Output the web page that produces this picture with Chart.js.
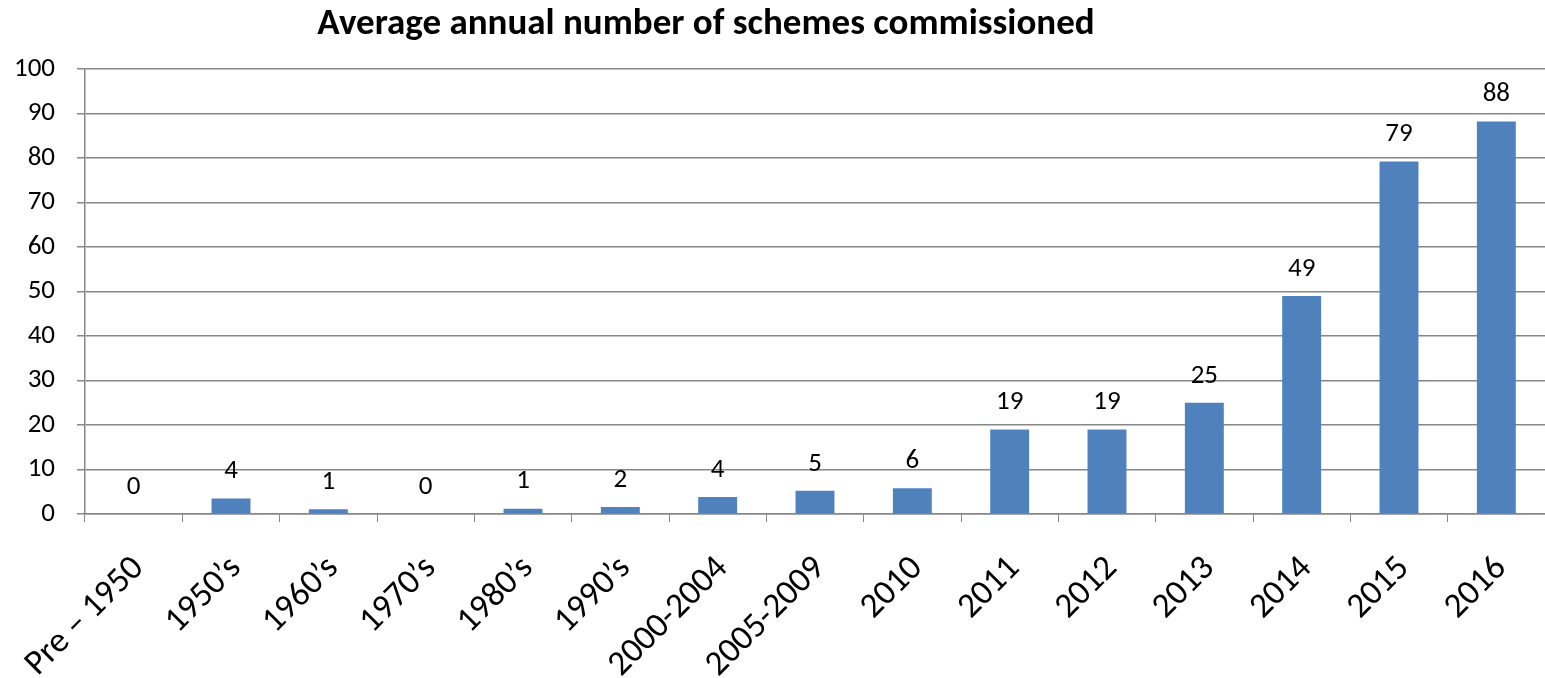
<!DOCTYPE html>
<html>
<head>
<meta charset="utf-8">
<script src="https://cdn.jsdelivr.net/npm/chart.js@4.4.1/dist/chart.umd.min.js"></script>
<style>
  html, body { margin: 0; padding: 0; background: #fff; overflow: hidden; }
  .chart-wrap { width: 1545px; height: 678px; }
</style>
</head>
<body>
<div class="chart-wrap"><canvas id="schemes"></canvas></div>
<script>
const categories = ['Pre \u2013 1950', '1950\u2019s', '1960\u2019s', '1970\u2019s', '1980\u2019s', '1990\u2019s',
  '2000-2004', '2005-2009', '2010', '2011', '2012', '2013', '2014', '2015', '2016'];
const schemesPerYear = [0, 3.5, 1.05, 0, 1.2, 1.6, 3.8, 5.2, 5.8, 19, 19, 25, 49, 79.2, 88.2];
const yTicks = [0, 10, 20, 30, 40, 50, 60, 70, 80, 90, 100];

const FONT = "Carlito, 'Open Sans', sans-serif";
const AXIS_GREY = '#878787';

// value labels above each bar, rounded like the source table
const barLabels = {
  id: 'barLabels',
  afterDatasetsDraw(chart) {
    const ctx = chart.ctx;
    const meta = chart.getDatasetMeta(0);
    ctx.save();
    ctx.font = '27px ' + FONT;
    ctx.fillStyle = '#000';
    ctx.textAlign = 'center';
    ctx.textBaseline = 'middle';
    meta.data.forEach((bar, i) => {
      ctx.fillText(String(Math.round(schemesPerYear[i])), bar.x, bar.y - 27);
    });
    ctx.restore();
  }
};

// category names at 45 degrees, ending just under each category centre
const slantedLabels = {
  id: 'slantedLabels',
  afterDraw(chart) {
    const ctx = chart.ctx;
    const xs = chart.scales.x;
    ctx.save();
    ctx.font = '35px ' + FONT;
    ctx.fillStyle = '#000';
    ctx.textAlign = 'right';
    ctx.textBaseline = 'middle';
    categories.forEach((name, i) => {
      ctx.save();
      ctx.translate(xs.getPixelForTick(i) + 5, xs.top + 49);
      ctx.rotate(-Math.PI / 4);
      ctx.fillText(name, 0, 0);
      ctx.restore();
    });
    ctx.restore();
  }
};

const chartTitle = {
  id: 'chartTitle',
  afterDraw(chart) {
    const ctx = chart.ctx;
    ctx.save();
    ctx.font = 'bold 37px ' + FONT;
    ctx.fillStyle = '#000';
    ctx.textAlign = 'center';
    ctx.textBaseline = 'middle';
    ctx.fillText('Average annual number of schemes commissioned', 706, 25);
    ctx.restore();
  }
};

new Chart(document.getElementById('schemes'), {
  type: 'bar',
  data: {
    labels: categories,
    datasets: [{
      data: schemesPerYear,
      backgroundColor: '#4F81BD',
      borderWidth: 0,
      categoryPercentage: 1,
      barPercentage: 0.4
    }]
  },
  options: {
    responsive: true,
    maintainAspectRatio: false,
    animation: false,
    // the plot runs a few pixels past the right edge of the canvas
    layout: { padding: { top: 69, right: -4, left: 0, bottom: 0 } },
    plugins: { legend: { display: false }, tooltip: { enabled: false } },
    scales: {
      x: {
        grid: {
          offset: true,
          drawOnChartArea: false,
          color: AXIS_GREY,
          tickLength: 8
        },
        border: { color: AXIS_GREY, width: 1.5 },
        ticks: { display: false },
        afterFit(axis) { axis.height = 678 - 514; }
      },
      y: {
        min: 0,
        max: 100,
        afterBuildTicks(axis) { axis.ticks = yTicks.map(v => ({ value: v })); },
        grid: { color: AXIS_GREY, lineWidth: 1.5, tickLength: 8 },
        border: { color: AXIS_GREY, width: 1.5 },
        ticks: {
          color: '#000',
          font: { family: FONT, size: 27 },
          padding: 22
        },
        afterFit(axis) { axis.width = 85; }
      }
    }
  },
  plugins: [barLabels, slantedLabels, chartTitle]
});
</script>
</body>
</html>
